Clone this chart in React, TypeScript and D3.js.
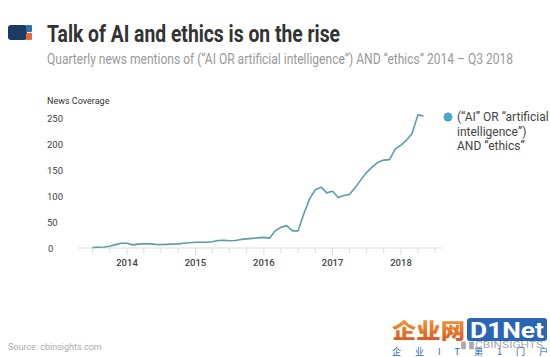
import React from "react";
import * as d3 from "d3";

const startMonth = new Date(2013, 6, 1);
const values: number[] = [
  1, 1.5, 2, 3.5, 6.5, 9, 9, 6, 7.5, 8, 8, 7, 6.5, 7, 7.5, 8, 9, 10,
  11, 11, 11, 12, 14.5, 15, 14, 14.5, 16.5, 17.5, 18.5, 19.5, 20.5, 19,
  33, 40, 43, 33, 33, 66, 95, 112, 117, 106, 109, 97, 101, 103, 116, 131,
  145, 156, 165, 169, 170, 190, 198, 208, 220, 256, 254,
];
const yTicks = [0, 50, 100, 150, 200, 250];
const yearLabels = [2014, 2015, 2016, 2017, 2018];
const legendLines = ["(“AI” OR “artificial", "intelligence”)", "AND “ethics”"];

export default function App() {
  const W = 550, H = 357;
  const data = values.map((v, i) => ({ date: d3.timeMonth.offset(startMonth, i), v }));
  const x = d3.scaleTime()
    .domain([new Date(2014, 0, 1), new Date(2018, 0, 1)])
    .range([127, 401]);
  const y = d3.scaleLinear().domain([0, 250]).range([248, 118]);
  const axisStart = 78, axisEnd = 442;
  const quarterTicks = d3.timeMonth
    .every(3)!
    .range(x.invert(axisStart), x.invert(axisEnd));
  const line = d3.line<{ date: Date; v: number }>()
    .x((d) => x(d.date))
    .y((d) => y(d.v))
    .curve(d3.curveLinear);
  const font = "Roboto, 'Open Sans', sans-serif";

  return (
    <svg width={W} height={H} style={{ position: "absolute", left: 0, top: 0 }} fontFamily={font}>
      <defs>
        <linearGradient id="wm" x1="0" y1="0" x2="0" y2="1">
          <stop offset="0" stopColor="#f6a53a" />
          <stop offset="1" stopColor="#d9501e" />
        </linearGradient>
      </defs>
      <rect width={W} height={H} fill="#fff" />
      {/* logo */}
      <rect x={8} y={25} width={19} height={15} rx={3} fill="#1b3a64" />
      <rect x={26} y={25} width={6} height={7} rx={1} fill="#2f6fa8" />
      <rect x={26} y={33} width={6} height={7} rx={1} fill="#e8663a" />
      <text x={47} y={42} fontSize={24} fontWeight={700} fill="#333" textLength={293} lengthAdjust="spacingAndGlyphs">
        Talk of AI and ethics is on the rise
      </text>
      <text x={47} y={64} fontSize={14} fill="#999" textLength={466} lengthAdjust="spacingAndGlyphs">
        Quarterly news mentions of (“AI OR artificial intelligence”) AND “ethics” 2014 – Q3 2018
      </text>
      <text x={47} y={104} fontSize={9} fill="#333">News Coverage</text>
      {yTicks.map((t) => (
        <text key={t} x={t === 0 ? 48 : 47} y={y(t) + 3.5} fontSize={9.5} fill="#444">{t}</text>
      ))}
      <line x1={axisStart} x2={axisEnd} y1={248} y2={248} stroke="#ddd" strokeWidth={1} />
      {quarterTicks.map((d, i) => (
        <line key={i} x1={x(d)} x2={x(d)} y1={248} y2={d.getMonth() === 0 ? 255 : 253} stroke="#ddd" strokeWidth={1} />
      ))}
      {yearLabels.map((yr) => (
        <text key={yr} x={x(new Date(yr, 0, 1))} y={266} fontSize={9.5} fontWeight={500} fill="#444" textAnchor="middle">{yr}</text>
      ))}
      <path d={line(data) || ""} fill="none" stroke="#5b9ea8" strokeWidth={1.6} strokeLinejoin="round" />
      {/* legend */}
      <circle cx={448} cy={117} r={4.5} fill="#4aa6c6" />
      {legendLines.map((t, i) => (
        <text key={i} x={457} y={121 + i * 14.5} fontSize={12} fill="#444">{t}</text>
      ))}
      <text x={8} y={350} fontSize={9} fill="#aaa">Source: cbinsights.com</text>
      {/* watermark */}
      <text x={392} y={338} fontSize={21} fontWeight={900} fill="url(#wm)" textLength={73} lengthAdjust="spacingAndGlyphs" fontFamily="'Noto Sans CJK SC', sans-serif">企业网</text>
      <rect x={467} y={318} width={80} height={23} rx={3} fill="#2a65b5" />
      <text x={470} y={338} fontSize={22} fontWeight={700} fill="#fff" textLength={74} lengthAdjust="spacingAndGlyphs">D1Net</text>
      <text x={460} y={348} fontSize={9.5} fill="#aaa" textLength={83} lengthAdjust="spacingAndGlyphs">▮▮CBINSIGHTS</text>
      <text x={392} y={355} fontSize={9} fill="#2a65b5" fontFamily="'Noto Sans CJK SC', sans-serif" textLength={156} lengthAdjust="spacing">企 业 I T 第 1 门 户</text>
    </svg>
  );
}
